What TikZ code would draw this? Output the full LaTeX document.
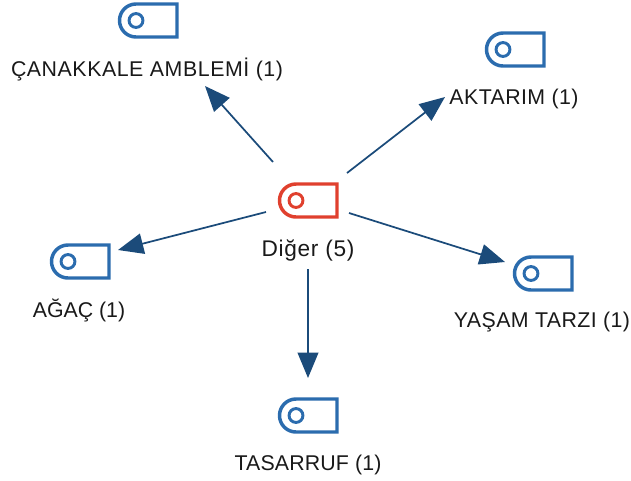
\documentclass[tikz,border=0pt]{standalone}
\usepackage{fontspec}
\setmainfont{Liberation Sans}
\usetikzlibrary{arrows.meta}
\definecolor{tagblue}{HTML}{2B6CAE}
\definecolor{tagred}{HTML}{E0402E}
\definecolor{linkblue}{HTML}{1B4B7A}
\tikzset{
  x=0.75pt,y=-0.75pt,
  lbl/.style={font=\fontsize{16pt}{19pt}\selectfont,text=black!90,inner sep=0pt,anchor=center},
  link/.style={draw=linkblue,line width=1.3pt,-{Triangle[length=19pt,width=15.5pt]}},
  pics/tagicon/.style={code={
    \draw[#1,line width=2.6pt,line join=miter]
      (17,0) -- (58,0) -- (58,33) -- (17,33) arc[start angle=270,end angle=90,radius=12.375pt] -- cycle;
    \draw[#1,line width=2.2pt] (17,16.5) circle[radius=5.2pt];
  }}
}
\begin{document}
\begin{tikzpicture}
\useasboundingbox (0,0) rectangle (631,480);
\pic at (279,184) {tagicon=tagred};
\pic at (119,4) {tagicon=tagblue};
\pic at (486,33) {tagicon=tagblue};
\pic at (51,245) {tagicon=tagblue};
\pic at (514,257) {tagicon=tagblue};
\pic at (279,399) {tagicon=tagblue};
\node[lbl] (hub) at (308,250) {\fontsize{17pt}{20pt}\selectfont\addfontfeature{LetterSpace=3}Diğer (5)};
\node[lbl] (cn) at (147,69) {\addfontfeature{LetterSpace=2.6}ÇANAKKALE AMBLEMİ (1)};
\node[lbl] (ak) at (514,98.5) {\addfontfeature{LetterSpace=2}AKTARIM (1)};
\node[lbl] (ag) at (79,310) {AĞAÇ (1)};
\node[lbl] (ya) at (542,322) {\addfontfeature{LetterSpace=2}YAŞAM TARZI (1)};
\node[lbl] (ta) at (308,465) {\addfontfeature{LetterSpace=0.7}TASARRUF (1)};
\coordinate (s1) at (273,162); \coordinate (e1) at (205,86);
\coordinate (s2) at (347,173); \coordinate (e2) at (445,97);
\coordinate (s3) at (266,212); \coordinate (e3) at (118,250);
\coordinate (s4) at (349,213); \coordinate (e4) at (505,262);
\coordinate (s5) at (308,269); \coordinate (e5) at (308,378);
\draw[link] (s1) -- (e1);
\draw[link] (s2) -- (e2);
\draw[link] (s3) -- (e3);
\draw[link] (s4) -- (e4);
\draw[link] (s5) -- (e5);
\end{tikzpicture}
\end{document}
